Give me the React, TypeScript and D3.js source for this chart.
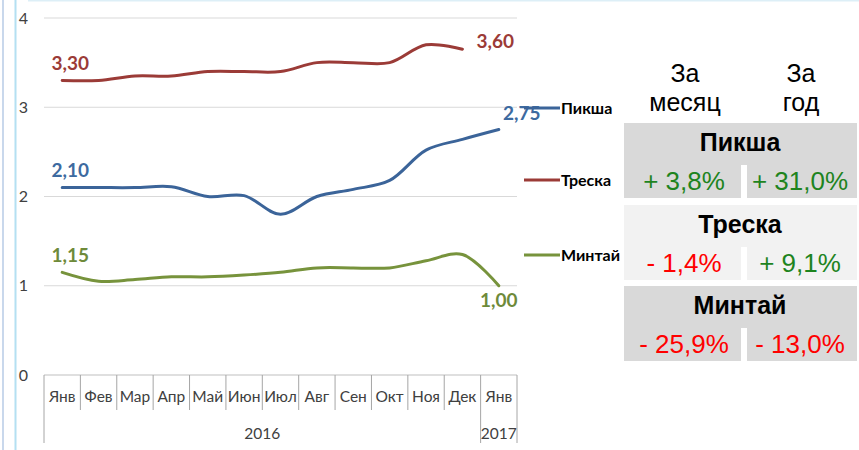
import React from "react";
import * as d3 from "d3";

const months = ["Янв", "Фев", "Мар", "Апр", "Май", "Июн", "Июл", "Авг", "Сен", "Окт", "Ноя", "Дек", "Янв"];
const yearLabels = ["2016", "2017"];
const yearSpans = [12, 1];
const yTicks = [0, 1, 2, 3, 4];

const seriesNames = ["Пикша", "Треска", "Минтай"];
const haddock = [2.1, 2.1, 2.1, 2.11, 2.0, 2.01, 1.8, 2.0, 2.08, 2.18, 2.52, 2.64, 2.75];
const cod = [3.3, 3.3, 3.35, 3.35, 3.4, 3.4, 3.4, 3.5, 3.5, 3.5, 3.7, 3.65];
const pollock = [1.15, 1.05, 1.07, 1.1, 1.1, 1.12, 1.15, 1.2, 1.2, 1.2, 1.28, 1.35, 1.0];
const startLabels = ["2,10", "3,30", "1,15"];
const endLabels = ["2,75", "3,60", "1,00"];

const tableHeaders = [["За", "месяц"], ["За", "год"]];
const changeMonth = ["+ 3,8%", "- 1,4%", "- 25,9%"];
const changeYear = ["+ 31,0%", "+ 9,1%", "- 13,0%"];

const colors = ["#3B6499", "#9B3B37", "#77933C"];
const labelColors = ["#3D6AA0", "#9B3B37", "#6E8A3A"];
const endPlacement = ["above", "right", "below"];
const legendY = [108, 180, 255];
const groupTop = [123, 205, 286];
const groupBg = ["#D9D9D9", "#F2F2F2", "#D9D9D9"];

const chartFont = "Lato, 'Open Sans', sans-serif";
const tableFont = "'Liberation Sans', Arial, sans-serif";

export default function App() {
  const W = 859, H = 450;
  const x = d3.scaleBand<number>().domain(d3.range(months.length)).range([44, 517]);
  const y = d3.scaleLinear().domain([0, 4]).range([375, 18]);
  const cx = (i: number) => (x(i) as number) + x.bandwidth() / 2;
  const line = d3
    .line<number>()
    .x((_, i) => cx(i))
    .y((d) => y(d))
    .curve(d3.curveCatmullRom.alpha(0.5));
  const allSeries = [haddock, cod, pollock];

  const yearBounds: number[] = [0];
  let acc = 0;
  yearSpans.forEach((s) => {
    acc += s;
    yearBounds.push(acc);
  });
  const bx = (k: number) => (k < months.length ? (x(k) as number) : x.range()[1]);

  return (
    <svg width={W} height={H} style={{ position: "absolute", left: 0, top: 0, background: "#fff" }}>
      <line x1={3} x2={3} y1={0} y2={H} stroke="#C9D8EC" strokeWidth={2} />
      <line x1={15.5} x2={15.5} y1={0} y2={H} stroke="#B4E0F2" strokeWidth={2} />
      <line x1={28} x2={W} y1={0.5} y2={0.5} stroke="#DDEFF7" strokeWidth={2} />

      {yTicks.map((t) => (
        <g key={t}>
          <line x1={44} x2={517} y1={y(t)} y2={y(t)} stroke={t === 0 ? "#BFBFBF" : "#D9D9D9"} strokeWidth={1} />
          <text x={28} y={y(t)} dy="0.35em" textAnchor="end" fontFamily={chartFont} fontSize={16} fill="#404040">
            {t}
          </text>
        </g>
      ))}

      {months.map((m, i) => (
        <g key={i}>
          {i > 0 && !yearBounds.includes(i) && (
            <line x1={x(i)} x2={x(i)} y1={375} y2={410} stroke="#A6A6A6" />
          )}
          <text x={cx(i)} y={402} textAnchor="middle" fontFamily={chartFont} fontSize={15.5} fill="#404040">
            {m}
          </text>
        </g>
      ))}
      {yearBounds.map((b, k) => (
        <line key={k} x1={bx(b)} x2={bx(b)} y1={375} y2={443} stroke="#A6A6A6" />
      ))}
      {yearLabels.map((yl, k) => {
        const a = bx(yearBounds[k]);
        const b = bx(yearBounds[k + 1]);
        return (
          <text key={k} x={(a + b) / 2} y={439} textAnchor="middle" fontFamily={chartFont} fontSize={15.5} fill="#404040">
            {yl}
          </text>
        );
      })}

      {allSeries.map((s, k) => (
        <path key={k} d={line(s) || ""} fill="none" stroke={colors[k]} strokeWidth={3} strokeLinecap="round" />
      ))}

      {allSeries.map((s, k) => {
        const x0 = cx(0);
        const y0 = y(s[0]);
        const n = s.length - 1;
        const xn = cx(n);
        const yn = y(s[n]);
        let ex = xn, ey = yn, anchor = "middle";
        if (endPlacement[k] === "above") { ex = xn + 23; ey = yn - 16; }
        if (endPlacement[k] === "below") { ex = xn; ey = yn + 15; }
        if (endPlacement[k] === "right") { ex = xn + 14; ey = yn - 8; anchor = "start"; }
        return (
          <g key={k} fontFamily={chartFont} fontSize={19} fontWeight={700} fill={labelColors[k]}>
            <text x={x0 + 8} y={y0 - 17} dy="0.35em" textAnchor="middle">{startLabels[k]}</text>
            <text x={ex} y={ey} dy="0.35em" textAnchor={anchor}>{endLabels[k]}</text>
          </g>
        );
      })}

      {seriesNames.map((n, k) => (
        <g key={n}>
          <line x1={524} x2={560} y1={legendY[k]} y2={legendY[k]} stroke={colors[k]} strokeWidth={3} />
          <text x={561} y={legendY[k]} dy="0.35em" fontFamily={chartFont} fontSize={16} fontWeight={700} fill="#000">
            {n}
          </text>
        </g>
      ))}

      {tableHeaders.map((h, j) => (
        <g key={j} fontFamily={tableFont} fontSize={25} fill="#000" textAnchor="middle">
          <text x={j === 0 ? 685 : 801} y={82}>{h[0]}</text>
          <text x={j === 0 ? 685 : 801} y={111}>{h[1]}</text>
        </g>
      ))}

      {seriesNames.map((n, k) => {
        const top = groupTop[k];
        const nameH = 42;
        const valH = 33;
        const valTop = top + nameH;
        const vals = [changeMonth[k], changeYear[k]];
        return (
          <g key={n}>
            <rect x={624} y={top} width={233} height={nameH} fill={groupBg[k]} />
            <rect x={624} y={valTop} width={117} height={valH} fill={groupBg[k]} />
            <rect x={747} y={valTop} width={110} height={valH} fill={groupBg[k]} />
            <text x={740} y={top + 28} textAnchor="middle" fontFamily={tableFont} fontSize={25} fontWeight={700} fill="#000">
              {n}
            </text>
            {vals.map((v, j) => (
              <text
                key={j}
                x={j === 0 ? 684 : 800}
                y={valTop + 25}
                textAnchor="middle"
                fontFamily={tableFont}
                fontSize={26}
                fill={v.trim().startsWith("-") ? "#FF0000" : "#1E841E"}
              >
                {v}
              </text>
            ))}
          </g>
        );
      })}
    </svg>
  );
}
